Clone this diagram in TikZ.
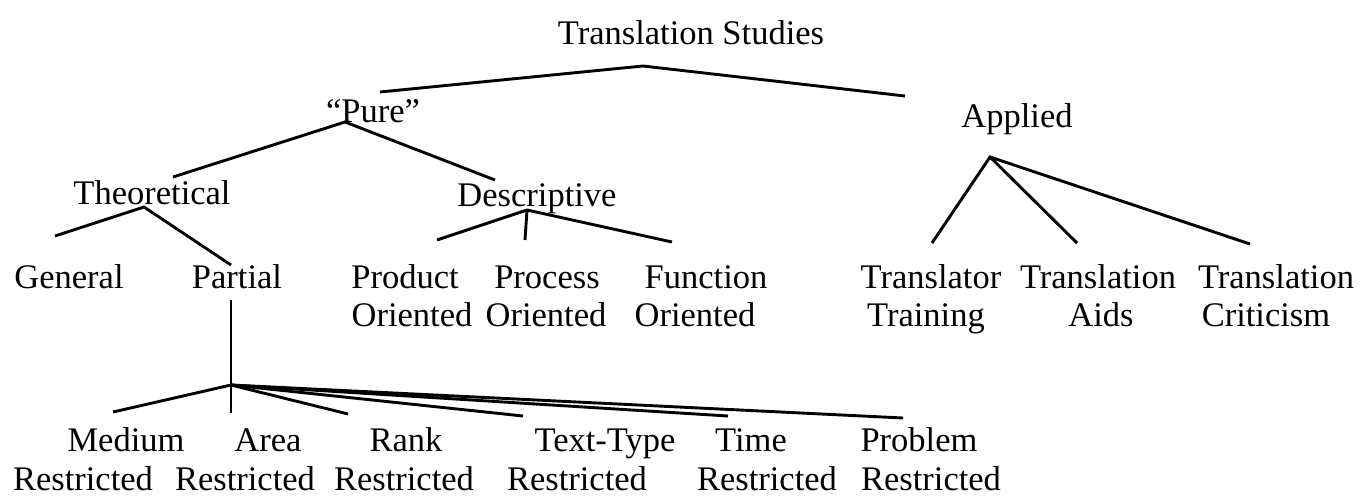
\documentclass[tikz,border=0pt]{standalone}
\usepackage{fontspec}
\setmainfont{Liberation Serif}

\begin{document}
\begin{tikzpicture}[
  x=0.5pt, y=-0.5pt, line width=1.45pt,
  lbl/.style={anchor=base, inner sep=0pt, font=\fontsize{17.25}{19}\selectfont},
]
  \useasboundingbox (0,0) rectangle (1363,499);

  % branch points and line ends
  \coordinate (T)   at (643,66);
  \coordinate (T1)  at (380,92);
  \coordinate (T2)  at (905,96);
  \coordinate (P)   at (345,122);
  \coordinate (P1)  at (173,177);
  \coordinate (P2)  at (495,180);
  \coordinate (Th)  at (144,207);
  \coordinate (Th1) at (55,236);
  \coordinate (Th2) at (231,265);
  \coordinate (D)   at (527,210);
  \coordinate (D1)  at (437,240);
  \coordinate (D2)  at (525,240);
  \coordinate (D3)  at (672,242);
  \coordinate (Ap)  at (990,157);
  \coordinate (Ap1) at (932,243);
  \coordinate (Ap2) at (1077,243);
  \coordinate (Ap3) at (1250,244);
  \coordinate (Pa0) at (231,300);
  \coordinate (Pa)  at (231,385);
  \coordinate (Pa1) at (113,412);
  \coordinate (Pa2) at (231,413);
  \coordinate (Pa3) at (348,414);
  \coordinate (Pa4) at (523,416);
  \coordinate (Pa5) at (728,416);
  \coordinate (Pa6) at (903,418);

  \draw (T1)--(T)--(T2);
  \draw (P1)--(P)--(P2);
  \draw (Th1)--(Th)--(Th2);
  \draw (D1)--(D)--(D3);
  \draw (D)--(D2);
  \draw (Ap1)--(Ap)--(Ap3);
  \draw (Ap)--(Ap2);
  \draw (Pa0)--(Pa2);
  \draw (Pa1)--(Pa)--(Pa3);
  \draw (Pa)--(Pa4);
  \draw (Pa)--(Pa5);
  \draw (Pa)--(Pa6);

  % top levels
  \node[lbl] (studies)     at (691,44)  {Translation Studies};
  \node[lbl] (pure)        at (373,122) {``Pure''};
  \node[lbl] (applied)     at (1017,127) {Applied};
  \node[lbl] (theoretical) at (152,204) {Theoretical};
  \node[lbl] (descriptive) at (537,206) {Descriptive};

  % third level
  \node[lbl] (general)  at (69,288)   {General};
  \node[lbl] (partial)  at (237,288)  {Partial};
  \node[lbl] (product)  at (405,288)  {Product};
  \node[lbl] (productb) at (412,326)  {Oriented};
  \node[lbl] (process)  at (547,288)  {Process};
  \node[lbl] (processb) at (546,326)  {Oriented};
  \node[lbl] (function) at (706,288)  {Function};
  \node[lbl] (functionb) at (695,326) {Oriented};
  \node[lbl] (trainer)  at (931,288)  {Translator};
  \node[lbl] (trainerb) at (926,326)  {Training};
  \node[lbl] (aids)     at (1098,288) {Translation};
  \node[lbl] (aidsb)    at (1101,326) {Aids};
  \node[lbl] (critic)   at (1276,288) {Translation};
  \node[lbl] (criticb)  at (1266,326) {Criticism};

  % partial theories
  \node[lbl] (medium)    at (126,451) {Medium};
  \node[lbl] (mediumb)   at (83,490)  {Restricted};
  \node[lbl] (area)      at (268,451) {Area};
  \node[lbl] (areab)     at (245,490) {Restricted};
  \node[lbl] (rank)      at (406,451) {Rank};
  \node[lbl] (rankb)     at (404,490) {Restricted};
  \node[lbl] (texttype)  at (605,451) {Text-Type};
  \node[lbl] (texttypeb) at (577,490) {Restricted};
  \node[lbl] (time)      at (751,451) {Time};
  \node[lbl] (timeb)     at (767,490) {Restricted};
  \node[lbl] (problem)   at (919,451) {Problem};
  \node[lbl] (problemb)  at (931,490) {Restricted};
\end{tikzpicture}
\end{document}
